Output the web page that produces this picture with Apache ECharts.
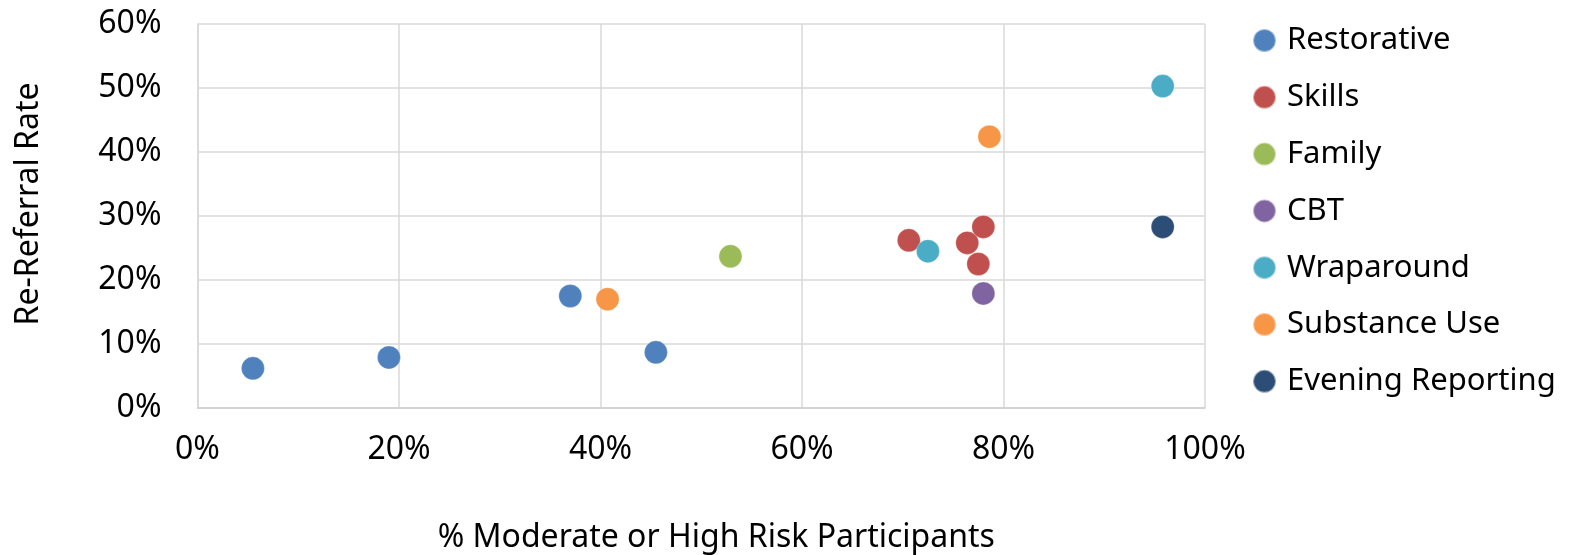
<!DOCTYPE html>
<html>
<head>
<meta charset="utf-8">
<script src="https://cdn.jsdelivr.net/npm/echarts@6/dist/echarts.min.js"></script>
<style>
html,body{margin:0;padding:0;background:#fff;}
#chart{width:1579px;height:555px;}
</style>
</head>
<body>
<div id="chart"></div>
<script>
// Data (x = % moderate/high risk participants, y = re-referral rate), in percent
const seriesNames = ["Restorative", "Skills", "Family", "CBT", "Wraparound", "Substance Use", "Evening Reporting"];
const restorative = [[5.5, 6.2], [19.0, 7.9], [37.0, 17.5], [45.5, 8.7]];
const skills = [[70.6, 26.2], [76.4, 25.8], [77.5, 22.5], [78.0, 28.3]];
const family = [[52.9, 23.7]];
const cbt = [[78.0, 17.9]];
const wraparound = [[72.5, 24.5], [95.8, 50.3]];
const substanceUse = [[40.7, 17.0], [78.6, 42.4]];
const eveningReporting = [[95.8, 28.3]];
const xTicks = [0, 20, 40, 60, 80, 100];
const yTicks = [0, 10, 20, 30, 40, 50, 60];
const colors = ["#4F81BD", "#C0504D", "#9BBB59", "#8064A2", "#4BACC6", "#F79646", "#2C4D75"];

const allData = [restorative, skills, family, cbt, wraparound, substanceUse, eveningReporting];
const FONT = "'Noto Sans', sans-serif";

const chart = echarts.init(document.getElementById('chart'), null, {renderer: 'canvas'});
chart.setOption({
  animation: false,
  backgroundColor: '#ffffff',
  color: colors,
  textStyle: {fontFamily: FONT, color: '#000'},
  grid: {left: 197.5, right: 374, top: 24, bottom: 147, containLabel: false, outerBoundsMode: 'none'},
  xAxis: {
    type: 'value',
    min: xTicks[0], max: xTicks[xTicks.length - 1], interval: 20,
    name: '% Moderate or High Risk Participants',
    nameLocation: 'middle',
    nameGap: 114,
    nameTextStyle: {fontFamily: FONT, fontSize: 32, color: '#000', padding: [0, 0, 0, 30]},
    axisLine: {show: true, lineStyle: {color: '#D0D0D0', width: 1.5}},
    axisTick: {show: false},
    splitLine: {show: true, lineStyle: {color: '#D9D9D9', width: 1.5}},
    axisLabel: {fontFamily: FONT, fontSize: 32, color: '#000', margin: 26, formatter: '{value}%'}
  },
  yAxis: {
    type: 'value',
    min: yTicks[0], max: yTicks[yTicks.length - 1], interval: 10,
    name: 'Re-Referral Rate',
    nameLocation: 'middle',
    nameGap: 153,
    nameTextStyle: {fontFamily: FONT, fontSize: 32, color: '#000', padding: [0, 0, 0, 24]},
    axisLine: {show: true, lineStyle: {color: '#D9D9D9', width: 1.5}},
    axisTick: {show: false},
    splitLine: {show: true, lineStyle: {color: '#D9D9D9', width: 1.5}},
    axisLabel: {fontFamily: FONT, fontSize: 32, color: '#000', margin: 36, formatter: '{value}%'}
  },
  legend: {
    orient: 'vertical',
    left: 1252,
    top: 25,
    padding: 0,
    itemWidth: 23,
    itemHeight: 23,
    itemGap: 25.8,
    icon: 'circle',
    data: seriesNames,
    textStyle: {fontFamily: FONT, fontSize: 31, color: '#000', padding: [0, 0, 0, 6]}
  },
  series: seriesNames.map((name, i) => ({
    name: name,
    type: 'scatter',
    data: allData[i],
    symbol: 'circle',
    symbolSize: 23,
    itemStyle: {color: colors[i], opacity: 1, borderColor: 'rgba(255,255,255,0.5)', borderWidth: 0.5}
  }))
});
</script>
</body>
</html>
